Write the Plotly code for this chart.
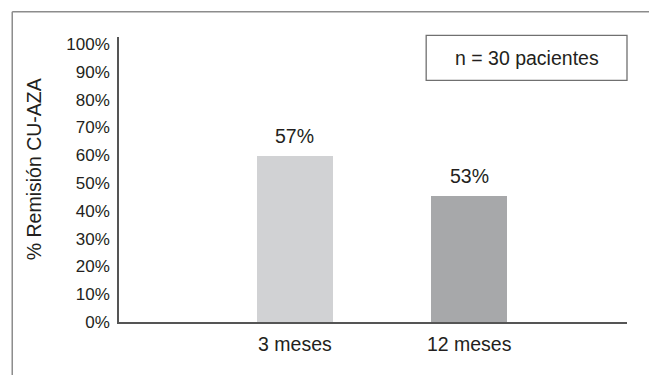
import plotly.graph_objects as go

categories = ["3 meses", "12 meses"]
values = [59.7, 45.2]          # bar heights as drawn
labels = ["57%", "53%"]        # printed value labels
bar_colors = ["#d1d2d4", "#a7a8aa"]
tick_vals = list(range(0, 101, 10))
tick_text = [f"{v}%" for v in tick_vals]
y_title = "% Remisión CU-AZA"
box_text = "n = 30 pacientes"

FONT = "Liberation Sans, Arial, sans-serif"
TXT = "#231f20"

W, H = 649, 375
L, R, T, B = 119, 22.3, 36.7, 53.3
pw, ph = W - L - R, H - T - B

def px_x(px):
    return (px - L) / pw

def px_y(py):
    return (H - B - py) / ph

fig = go.Figure()
fig.add_trace(go.Bar(
    x=categories, y=values, width=0.437,
    marker=dict(color=bar_colors, line=dict(width=0)),
    hoverinfo="skip",
))

for c, v, t in zip(categories, values, labels):
    fig.add_annotation(x=c, y=v, xref="x", yref="y", text=t, showarrow=False,
                       yanchor="bottom", yshift=7,
                       font=dict(family=FONT, size=19.5, color=TXT))

# y-axis title
fig.add_annotation(x=px_x(34), y=px_y(169), xref="paper", yref="paper",
                   text=y_title, textangle=-90, showarrow=False,
                   xanchor="center", yanchor="middle",
                   font=dict(family=FONT, size=19.5, color=TXT))

# n box
fig.add_shape(type="rect", xref="paper", yref="paper",
              x0=px_x(426), x1=px_x(626.7), y0=px_y(80), y1=px_y(35),
              line=dict(color="#707070", width=1.3), fillcolor="white", layer="above")
fig.add_annotation(x=(px_x(426) + px_x(626.7)) / 2, y=(px_y(80) + px_y(35)) / 2,
                   xref="paper", yref="paper", text=box_text, showarrow=False,
                   xanchor="center", yanchor="middle",
                   font=dict(family=FONT, size=19.5, color=TXT))

# outer frame (top and left edges)
fig.add_shape(type="line", xref="paper", yref="paper",
              x0=px_x(12.3), x1=px_x(660), y0=px_y(11.5), y1=px_y(11.5),
              line=dict(color="#8c8c8c", width=1.5))
fig.add_shape(type="line", xref="paper", yref="paper",
              x0=px_x(12.3), x1=px_x(12.3), y0=px_y(11.5), y1=px_y(390),
              line=dict(color="#8c8c8c", width=1.5))

fig.update_layout(
    width=W, height=H,
    margin=dict(l=L, r=R, t=T, b=B, autoexpand=False),
    paper_bgcolor="white", plot_bgcolor="white",
    showlegend=False,
    font=dict(family=FONT, color=TXT),
    bargap=0,
)
fig.update_xaxes(
    type="category", categoryorder="array", categoryarray=categories,
    range=[-1.01, 1.906], showgrid=False, zeroline=False,
    showline=True, linecolor="#555555", linewidth=2,
    ticks="", ticklabelstandoff=4,
    tickfont=dict(family=FONT, size=19.5, color=TXT),
    fixedrange=True,
)
fig.update_yaxes(
    range=[0, 102.5], tickvals=tick_vals, ticktext=tick_text,
    showgrid=False, zeroline=False,
    showline=True, linecolor="#555555", linewidth=1.5,
    ticks="", ticklabelstandoff=4,
    tickfont=dict(family=FONT, size=17, color=TXT),
    fixedrange=True,
)

fig.write_html("out.html")
